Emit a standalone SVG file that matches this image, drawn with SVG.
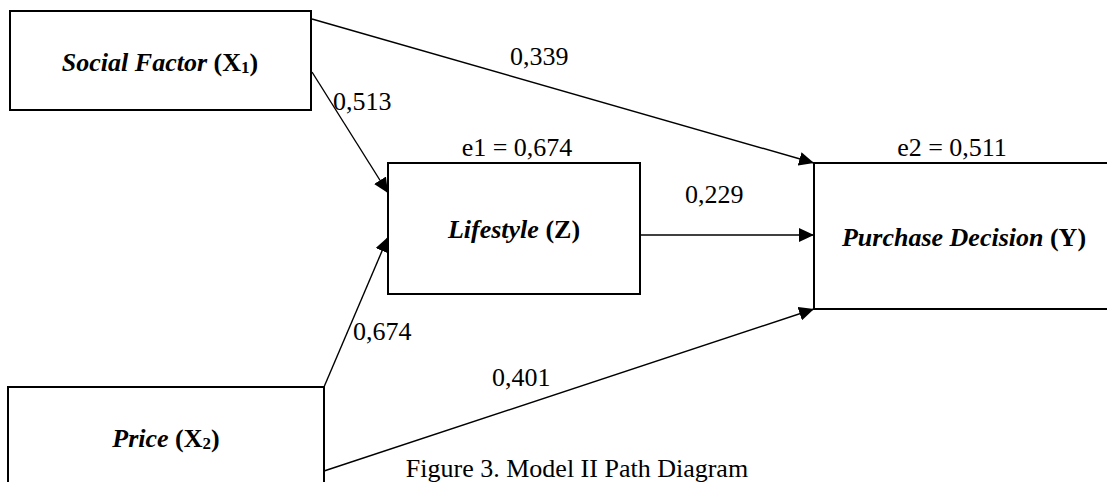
<svg xmlns="http://www.w3.org/2000/svg" width="1107" height="482" viewBox="0 0 1107 482">
<style>
.box{fill:#fff;stroke:#000;stroke-width:2}
.ln{fill:none;stroke:#000;stroke-width:1.4}
.t{font-family:"Liberation Serif","Times New Roman",serif;font-size:26px;fill:#000}
.n{font-family:"Liberation Serif","Times New Roman",serif;font-size:26px;fill:#000;font-weight:bold;font-style:italic;text-anchor:middle}
.nb{font-style:normal}
.sub{font-size:17px}
</style>
<defs>
<marker id="ah" markerUnits="userSpaceOnUse" markerWidth="16" markerHeight="14" refX="15" refY="7" orient="auto">
<path d="M0,0 L15,7 L0,14 z" fill="#000"/>
</marker>
</defs>
<rect width="1107" height="482" fill="#fff"/>
<g id="connectors">
<line class="ln" x1="312" y1="19" x2="814" y2="163" marker-end="url(#ah)"/>
<line class="ln" x1="312" y1="72" x2="388" y2="193" marker-end="url(#ah)"/>
<line class="ln" x1="324" y1="387" x2="388" y2="237" marker-end="url(#ah)"/>
<line class="ln" x1="640" y1="235" x2="814" y2="235" marker-end="url(#ah)"/>
<line class="ln" x1="324" y1="471" x2="814" y2="309" marker-end="url(#ah)"/>
<text class="t" x="510" y="65">0,339</text>
<text class="t" x="333" y="110">0,513</text>
<text class="t" x="685" y="203">0,229</text>
<text class="t" x="353" y="340">0,674</text>
<text class="t" x="492" y="386">0,401</text>
</g>
<g id="social">
<rect class="box" x="10" y="11" width="301" height="99"/>
<text class="n" x="160" y="71">Social Factor <tspan class="nb">(X<tspan class="sub" dy="2">1</tspan><tspan dy="-2">)</tspan></tspan></text>
</g>
<g id="lifestyle">
<rect class="box" x="388" y="163" width="252" height="131"/>
<text class="t" x="517" y="156" text-anchor="middle">e1 = 0,674</text>
<text class="n" x="514" y="238">Lifestyle <tspan class="nb">(Z)</tspan></text>
</g>
<g id="purchase">
<rect class="box" x="814" y="163" width="300" height="146"/>
<text class="t" x="952" y="156" text-anchor="middle">e2 = 0,511</text>
<text class="n" x="964" y="246">Purchase Decision <tspan class="nb">(Y)</tspan></text>
</g>
<g id="price">
<rect class="box" x="8" y="387" width="316" height="110"/>
<text class="n" x="166" y="447">Price <tspan class="nb">(X<tspan class="sub" dy="2">2</tspan><tspan dy="-2">)</tspan></tspan></text>
</g>
<text class="t" x="577" y="477" text-anchor="middle">Figure 3. Model II Path Diagram</text>
</svg>
